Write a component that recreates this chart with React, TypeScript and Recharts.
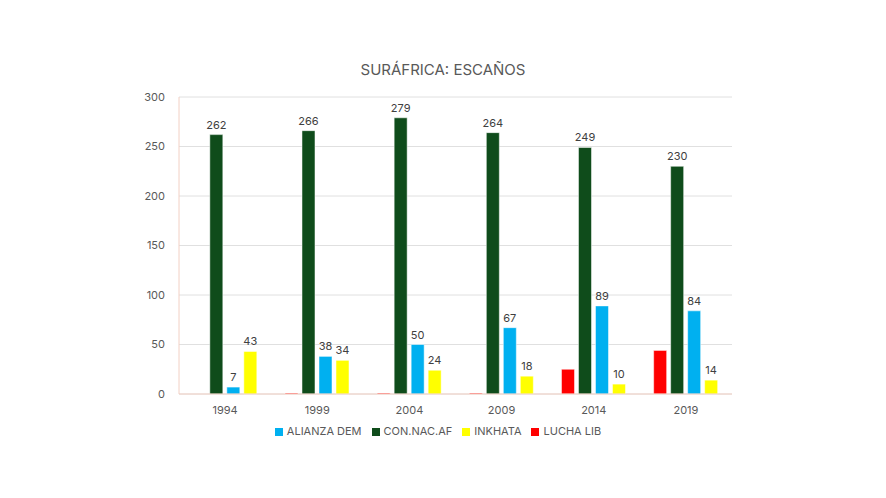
import { BarChart, Bar, XAxis, YAxis, CartesianGrid, Legend, LabelList } from "recharts";

const years = ["1994", "1999", "2004", "2009", "2014", "2019"];
const luchaLib = [0, 1, 1, 1, 25, 44];
const conNacAf = [262, 266, 279, 264, 249, 230];
const alianzaDem = [7, 38, 50, 67, 89, 84];
const inkhata = [43, 34, 24, 18, 10, 14];
const yTicks = [0, 50, 100, 150, 200, 250, 300];

const data = years.map((y, i) => ({
  year: y,
  lucha: luchaLib[i],
  anc: conNacAf[i],
  da: alianzaDem[i],
  ifp: inkhata[i],
}));

const font = "Inter, 'Noto Sans', sans-serif";
const labelStyle = { fill: "#404040", fontSize: 11, fontFamily: font };

export default function App() {
  return (
    <div style={{ position: "absolute", left: 0, top: 0, width: 886, height: 498, background: "#fff", fontFamily: font }}>
      <div style={{ position: "absolute", top: 60, width: 886, textAlign: "center", fontSize: 15, color: "#595959" }}>
        SURÁFRICA: ESCAÑOS
      </div>
      <BarChart
        width={886}
        height={498}
        data={data}
        margin={{ top: 97, right: 154, bottom: 60, left: 0 }}
        barGap={4}
        barCategoryGap="15%"
      >
        <CartesianGrid vertical={false} stroke="#e0e0e0" />
        <XAxis
          dataKey="year"
          tickLine={false}
          axisLine={{ stroke: "#f2d0c4" }}
          tick={{ fill: "#595959", fontSize: 11, fontFamily: font }}
          tickMargin={6}
        />
        <YAxis
          width={179}
          domain={[0, 300]}
          ticks={yTicks}
          tickLine={false}
          axisLine={{ stroke: "#f2d0c4" }}
          tick={{ fill: "#595959", fontSize: 11, fontFamily: font }}
          tickMargin={8}
        />
        <Legend
          verticalAlign="bottom"
          iconType="square"
          iconSize={8}
          wrapperStyle={{ fontSize: 11, color: "#595959", top: 424, left: 0, width: 886 }}
          formatter={(v) => <span style={{ color: "#595959" }}>{v}</span>}
        />
        <Bar dataKey="lucha" name="LUCHA LIB" fill="#ff0000" stroke="#fff" strokeWidth={0.5} isAnimationActive={false} />
        <Bar dataKey="anc" name="CON.NAC.AF" fill="#0f4c1b" stroke="#fff" strokeWidth={0.5} isAnimationActive={false}>
          <LabelList dataKey="anc" position="top" offset={6} style={labelStyle} />
        </Bar>
        <Bar dataKey="da" name="ALIANZA DEM" fill="#00b0f0" stroke="#fff" strokeWidth={0.5} isAnimationActive={false}>
          <LabelList dataKey="da" position="top" offset={6} style={labelStyle} />
        </Bar>
        <Bar dataKey="ifp" name="INKHATA" fill="#ffff00" stroke="#fff" strokeWidth={0.5} isAnimationActive={false}>
          <LabelList dataKey="ifp" position="top" offset={6} style={labelStyle} />
        </Bar>
      </BarChart>
    </div>
  );
}
